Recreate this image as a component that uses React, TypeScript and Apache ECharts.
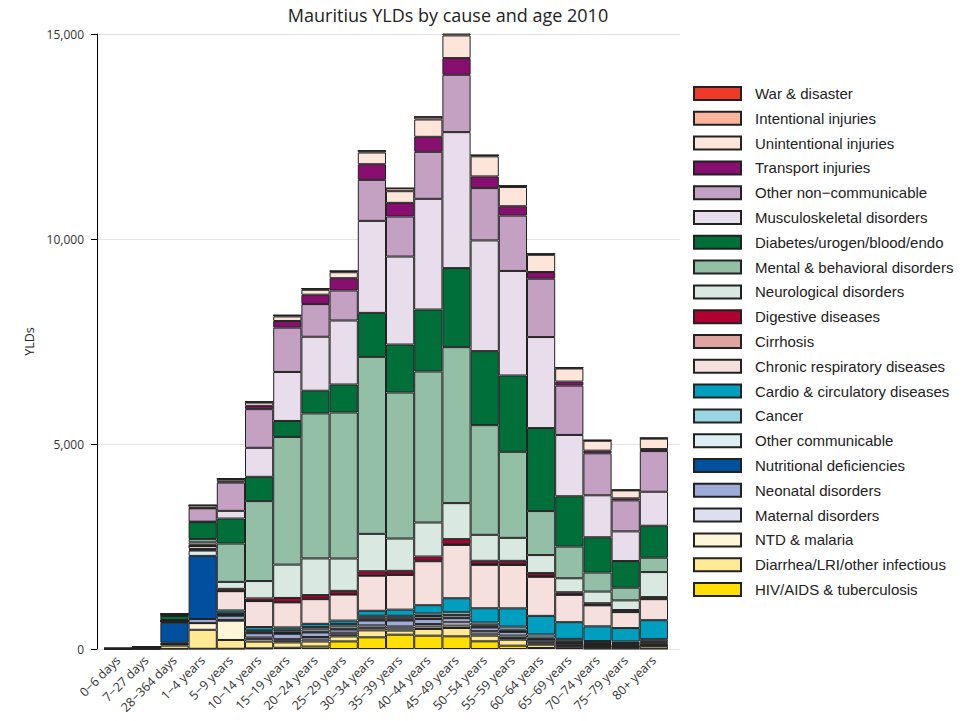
import React, { useEffect, useRef } from "react";
import * as echarts from "echarts";

const ageGroups = ["0−6 days","7−27 days","28−364 days","1−4 years","5−9 years","10−14 years","15−19 years","20−24 years","25−29 years","30−34 years","35−39 years","40−44 years","45−49 years","50−54 years","55−59 years","60−64 years","65−69 years","70−74 years","75−79 years","80+ years"];

const hivTb = [0,0,2,5,5,15,30,60,185,285,349,325,309,187,81,25,20,10,10,10];
const diarrheaLri = [2,8,80,463,215,165,130,122,122,170,100,163,203,138,146,80,50,40,40,60];
const ntdMalaria = [0,2,40,163,470,60,40,50,40,60,50,60,60,50,40,30,20,15,15,20];
const maternal = [0,0,0,0,20,40,40,60,50,60,50,60,80,60,60,30,15,10,10,10];
const neonatal = [10,20,30,100,100,105,130,112,80,120,146,122,100,90,90,60,40,30,30,40];
const nutritional = [0,5,490,1540,20,15,20,15,15,15,15,15,15,15,15,15,15,15,20,20];
const otherCommunicable = [1,3,20,130,20,30,40,60,60,50,50,60,60,40,40,40,30,25,20,30];
const cancer = [0,1,5,20,20,25,40,55,60,50,50,60,70,65,73,73,57,50,40,50];
const cardio = [0,1,5,20,70,80,57,80,81,122,150,203,341,349,447,455,407,358,325,463];
const chronicResp = [0,2,10,70,470,634,610,602,634,855,846,1073,1300,1057,1057,951,666,512,390,512];
const cirrhosis = [0,0,0,0,0,0,10,10,10,10,10,15,20,20,20,20,15,10,10,10];
const digestive = [0,1,10,30,57,65,98,89,81,100,90,100,122,80,81,73,49,41,40,41];
const neurological = [0,1,10,60,170,423,813,894,789,911,788,829,878,634,561,439,341,285,236,610];
const mental = [0,0,5,80,935,1950,3114,3537,3561,4317,3561,3683,3805,2675,2098,1073,773,463,309,350];
const diabetes = [0,1,100,415,610,593,390,553,683,1073,1171,1512,1927,1805,1862,2024,1227,861,650,780];
const musculoskeletal = [0,0,2,10,187,707,1195,1317,1561,2244,2146,2700,3317,2700,2550,2220,1496,1024,724,829];
const otherNcd = [0,1,25,325,690,943,1081,797,732,1000,976,1146,1398,1276,1350,1423,1203,1024,756,992];
const transport = [0,0,0,10,30,80,163,228,300,382,333,366,407,285,228,163,98,65,49,49];
const unintentional = [0,1,25,60,55,80,110,120,146,285,285,423,553,490,470,420,320,240,195,255];
const intentional = [0,0,0,5,10,20,30,30,30,45,73,65,57,30,30,25,20,15,10,15];
const warDisaster = [0,0,0,0,0,0,0,0,0,0,0,0,0,0,0,0,0,0,0,0];

// bottom to top
const causeNames = [
  "HIV/AIDS & tuberculosis",
  "Diarrhea/LRI/other infectious",
  "NTD & malaria",
  "Maternal disorders",
  "Neonatal disorders",
  "Nutritional deficiencies",
  "Other communicable",
  "Cancer",
  "Cardio & circulatory diseases",
  "Chronic respiratory diseases",
  "Cirrhosis",
  "Digestive diseases",
  "Neurological disorders",
  "Mental & behavioral disorders",
  "Diabetes/urogen/blood/endo",
  "Musculoskeletal disorders",
  "Other non−communicable",
  "Transport injuries",
  "Unintentional injuries",
  "Intentional injuries",
  "War & disaster",
];
const causeValues = [
  hivTb, diarrheaLri, ntdMalaria, maternal, neonatal, nutritional, otherCommunicable,
  cancer, cardio, chronicResp, cirrhosis, digestive, neurological, mental, diabetes,
  musculoskeletal, otherNcd, transport, unintentional, intentional, warDisaster,
];
const causeColors = [
  "#FFDF00", "#FFE994", "#FFF5D8", "#DCDFEF", "#9EABD6", "#0050A0", "#DDEFF3",
  "#9AD5E3", "#009FC0", "#F5E0DD", "#E0A4A0", "#B00034", "#D9E8E0", "#92BFA5",
  "#006F3A", "#E8DDEA", "#C4A0C2", "#880E6F", "#FEE5D9", "#FBB59C", "#EF3A2A",
];

export default function App() {
  const ref = useRef<HTMLDivElement>(null);
  useEffect(() => {
    document.body.style.margin = "0";
    if (!ref.current) return;
    const chart = echarts.init(ref.current, undefined, { renderer: "svg" });
    const axisFont = "Open Sans";
    const series = causeNames.map((name, i) => ({
      name,
      type: "bar",
      stack: "total",
      xAxisIndex: 1,
      yAxisIndex: 1,
      barCategoryGap: "0%",
      data: causeValues[i],
      itemStyle: { color: causeColors[i], borderColor: "#222", borderWidth: 1 },
      emphasis: { disabled: true },
    }));
    chart.setOption({
      animation: false,
      backgroundColor: "#fff",
      title: {
        text: "Mauritius YLDs by cause and age 2010",
        left: 443,
        textAlign: "center",
        top: 1,
        textStyle: { fontFamily: axisFont, fontSize: 18, fontWeight: "normal", color: "#222" },
      },
      legend: {
        orient: "vertical",
        left: 688,
        top: 81,
        itemWidth: 47,
        itemHeight: 13,
        itemGap: 9.8,
        icon: "rect",
        selectedMode: false,
        data: causeNames.slice().reverse(),
        textStyle: { fontFamily: "Liberation Sans", fontSize: 15, color: "#222", padding: [0, 0, 0, 9] },
      },
      grid: [
        { left: 97, right: 285, top: 34, bottom: 72 },
        { left: 104, right: 297, top: 34, bottom: 72 },
      ],
      xAxis: [
        { type: "value", gridIndex: 0, show: false, min: 0, max: 1 },
        {
          type: "category",
          gridIndex: 1,
          data: ageGroups,
          axisLine: { show: false },
          axisTick: { show: false },
          axisLabel: {
            rotate: 45,
            interval: 0,
            margin: 9,
            fontFamily: axisFont,
            fontSize: 12.5,
            color: "#333",
          },
        },
      ],
      yAxis: [
        {
          type: "value",
          gridIndex: 0,
          min: 0,
          max: 15000,
          interval: 5000,
          name: "YLDs",
          nameLocation: "middle",
          nameGap: 52,
          nameTextStyle: { fontFamily: axisFont, fontSize: 12.5, color: "#222" },
          axisLine: { show: true, lineStyle: { color: "#000", width: 1 } },
          axisTick: { show: true, length: 6, lineStyle: { color: "#000" } },
          axisLabel: {
            margin: 13,
            fontFamily: axisFont,
            fontSize: 12,
            color: "#333",
            formatter: (v: number) => v.toLocaleString("en-US"),
          },
          splitLine: { show: true, lineStyle: { color: "#E3E3E3", width: 1 } },
        },
        { type: "value", gridIndex: 1, min: 0, max: 15000, show: false, splitLine: { show: false } },
      ],
      series,
    });
    return () => chart.dispose();
  }, []);
  return <div ref={ref} style={{ width: 965, height: 721 }} />;
}
